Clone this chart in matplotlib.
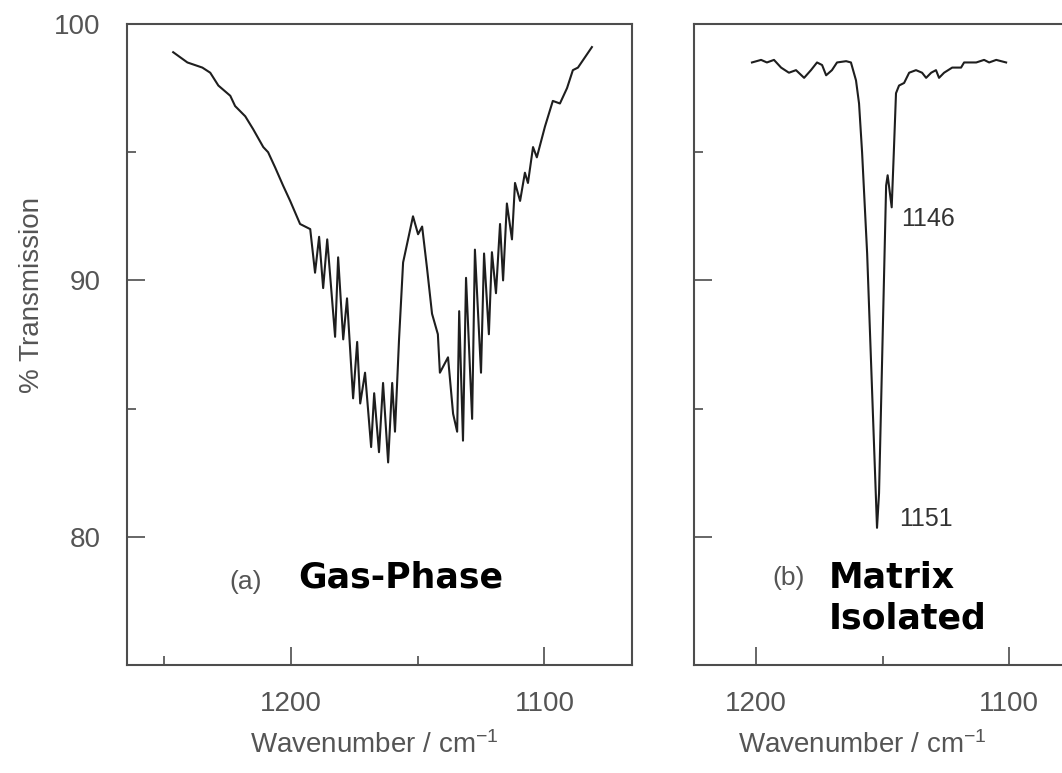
import matplotlib
matplotlib.use('Agg')
import matplotlib.pyplot as plt
from matplotlib.ticker import MultipleLocator

plt.rcParams['font.family'] = ['Liberation Sans', 'DejaVu Sans']
plt.rcParams['mathtext.default'] = 'regular'

# gas-phase spectrum (wavenumber / cm-1, % transmission)
gas_wn = [1246.3, 1240.7, 1234.8, 1231.7, 1228.5, 1223.8, 1221.9, 1217.9, 1214.8, 1210.8,
          1208.9, 1206.1, 1203.0, 1200.2, 1196.3, 1192.3, 1190.4, 1188.8, 1187.2, 1185.6,
          1182.5, 1181.3, 1179.3, 1177.8, 1175.4, 1173.8, 1172.6, 1170.7, 1168.3, 1167.1,
          1165.2, 1163.6, 1161.6, 1160.0, 1158.9, 1157.3, 1155.7, 1151.8, 1149.8, 1148.2,
          1146.3, 1144.3, 1142.0, 1141.2, 1138.0, 1136.0, 1134.4, 1133.6, 1132.1, 1130.9,
          1128.5, 1127.4, 1125.0, 1123.8, 1121.9, 1120.7, 1119.1, 1117.5, 1116.3, 1114.8,
          1112.8, 1111.6, 1109.6, 1107.7, 1106.5, 1104.5, 1103.0, 1099.8, 1096.7, 1093.9,
          1091.1, 1088.8, 1086.8, 1081.3]
gas_T = [98.9, 98.5, 98.3, 98.1, 97.6, 97.2, 96.8, 96.4, 95.9, 95.2,
         95.0, 94.4, 93.7, 93.1, 92.2, 92.0, 90.3, 91.7, 89.7, 91.6,
         87.8, 90.9, 87.7, 89.3, 85.4, 87.6, 85.2, 86.4, 83.5, 85.6,
         83.3, 86.0, 82.9, 86.0, 84.1, 87.7, 90.7, 92.5, 91.8, 92.1,
         90.5, 88.7, 87.9, 86.4, 87.0, 84.8, 84.1, 88.8, 83.75, 90.1,
         84.6, 91.2, 86.4, 91.05, 87.9, 91.1, 89.5, 92.2, 90.0, 93.0,
         91.6, 93.8, 93.1, 94.2, 93.8, 95.2, 94.8, 96.0, 97.0, 96.9,
         97.5, 98.2, 98.3, 99.1]

# matrix-isolated spectrum
mat_wn = [1201.6, 1198.0, 1195.7, 1192.9, 1190.1, 1187.0, 1184.2, 1181.0, 1178.3, 1175.9,
          1173.9, 1172.3, 1170.0, 1168.0, 1164.4, 1162.5, 1160.5, 1159.3, 1158.1, 1156.1,
          1152.2, 1151.4, 1148.6, 1148.0, 1146.4, 1145.6, 1144.7, 1143.5, 1141.5, 1139.5,
          1136.8, 1134.4, 1132.8, 1130.8, 1128.9, 1127.7, 1125.7, 1122.5, 1119.0, 1117.8,
          1113.0, 1109.9, 1107.9, 1105.1, 1101.2]
mat_T = [98.5, 98.6, 98.5, 98.6, 98.3, 98.1, 98.2, 97.9, 98.2, 98.5,
         98.4, 98.0, 98.2, 98.5, 98.55, 98.5, 97.8, 96.9, 95.0, 91.05,
         80.35, 81.7, 93.7, 94.1, 92.85, 94.9, 97.3, 97.6, 97.7, 98.1,
         98.2, 98.1, 97.9, 98.1, 98.2, 97.9, 98.1, 98.3, 98.3, 98.5,
         98.5, 98.6, 98.5, 98.6, 98.5]

peak_labels = ['1146', '1151']
peak_pos = [(1142.7, 92.4), (1143.5, 80.7)]

W, H = 1062, 773
fig = plt.figure(figsize=(W / 100, H / 100), dpi=100)
ax1 = fig.add_axes([127 / W, 1 - 665 / H, 505 / W, 641 / H])
ax2 = fig.add_axes([694 / W, 1 - 665 / H, 505 / W, 641 / H])

spine_c = '#4d4d4d'
text_c = '#555555'
line_c = '#1e1e1e'

for ax in (ax1, ax2):
    ax.set_ylim(75, 100)
    ax.xaxis.set_major_locator(MultipleLocator(100))
    ax.xaxis.set_minor_locator(MultipleLocator(50))
    ax.yaxis.set_major_locator(MultipleLocator(10))
    ax.yaxis.set_minor_locator(MultipleLocator(5))
    ax.tick_params(which='both', direction='in', color=spine_c, width=1.2,
                   labelsize=20, labelcolor=text_c, top=False, right=False)
    ax.tick_params(which='major', length=13)
    ax.tick_params(which='minor', length=6.5)
    ax.tick_params(axis='x', pad=19)
    ax.tick_params(axis='y', pad=19)
    for s in ax.spines.values():
        s.set_color(spine_c)
        s.set_linewidth(1.5)

ax1.set_xlim(1264.5, 1065.5)
ax2.set_xlim(1224.5, 1025)
ax2.tick_params(axis='y', labelleft=False)

ax1.plot(gas_wn, gas_T, color=line_c, lw=1.5)
ax2.plot(mat_wn, mat_T, color=line_c, lw=1.5)

# panel captions
ax1.text(1217.9, 78.25, '(a)', fontsize=19, color=text_c, ha='center', va='center')
ax1.text(1197.0, 78.4, 'Gas-Phase', fontsize=25, fontweight='bold', family='DejaVu Sans',
         color='black', ha='left', va='center')
ax2.text(1187.0, 78.4, '(b)', fontsize=19, color=text_c, ha='center', va='center')
ax2.text(1171.1, 78.4, 'Matrix', fontsize=25, fontweight='bold', family='DejaVu Sans',
         color='black', ha='left', va='center')
ax2.text(1171.1, 76.8, 'Isolated', fontsize=25, fontweight='bold', family='DejaVu Sans',
         color='black', ha='left', va='center')
for lab, (px, py) in zip(peak_labels, peak_pos):
    ax2.text(px, py, lab, fontsize=18, color='#333333', ha='left', va='center')

fig.text(374 / W, 1 - 745 / H, 'Wavenumber / cm$^{-1}$', fontsize=20, color=text_c,
         ha='center', va='center')
fig.text(862 / W, 1 - 745 / H, 'Wavenumber / cm$^{-1}$', fontsize=20, color=text_c,
         ha='center', va='center')
fig.text(32 / W, 1 - 295 / H, '% Transmission', fontsize=20, color=text_c,
         rotation=90, ha='center', va='center')

fig.savefig('out.png', dpi=100)
